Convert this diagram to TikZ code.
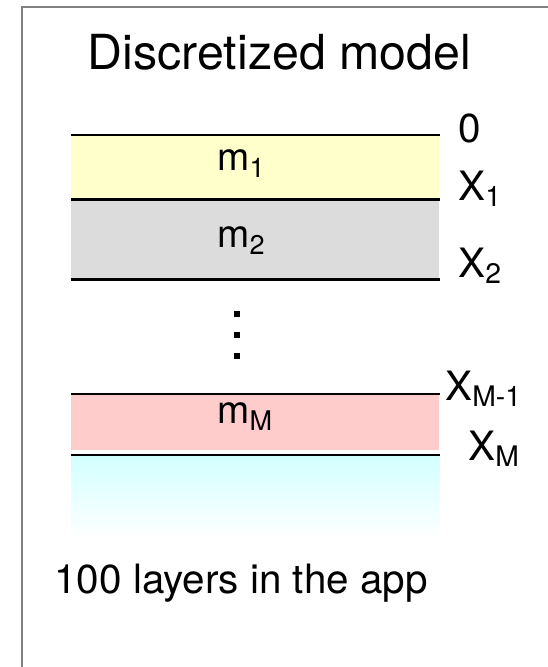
\documentclass[tikz,border=0pt]{standalone}
\usepackage{fontspec}
\setmainfont{TeX Gyre Heros}
\definecolor{layeryellow}{HTML}{FFFFCC}
\definecolor{layergray}{HTML}{DCDCDC}
\definecolor{layerpink}{HTML}{FFCCCC}
\definecolor{halfcyan}{HTML}{D2FFFF}

\begin{document}
\begin{tikzpicture}[
    frame/.style={draw=gray, line width=1.1pt},
    layer/.style={anchor=north west, inner sep=0pt, minimum width=7.36cm},
    param/.style={anchor=mid west, inner sep=0pt, font={\fontsize{22}{26}\selectfont}},
    bound/.style={line width=1.7pt},
    depth/.style={anchor=base west, inner sep=0pt, font={\fontsize{23}{27}\selectfont}},
    caption/.style={anchor=base, inner sep=0pt}
]
    \useasboundingbox (0,0) rectangle (10.94,-13.34);
    \draw[frame] (0.44,-13.6) |- (11.2,-0.14);

    \node[caption, font={\fontsize{27.5}{32}\selectfont}] (title) at (5.59,-1.40) {Discretized model};

    \node[layer, fill=layeryellow, minimum height=1.28cm] (m1)   at (1.42,-2.70) {};
    \node[layer, fill=layergray,   minimum height=1.60cm] (m2)   at (1.42,-3.98) {};
    \node[layer, fill=layerpink,   minimum height=1.12cm] (mM)   at (1.42,-7.88) {};
    \node[layer, top color=halfcyan, bottom color=white, minimum height=1.66cm] (half) at (1.42,-9.10) {};

    \node[param] (p1) at (4.34,-3.32) {m\textsubscript{1}};
    \node[param] (p2) at (4.34,-4.86) {m\textsubscript{2}};
    \node[param] (pM) at (4.34,-8.38) {m\textsubscript{M}};

    \draw[bound] (m1.north west)   -- (m1.north east);
    \draw[bound] (m1.south west)   -- (m1.south east);
    \draw[bound] (m2.south west)   -- (m2.south east);
    \draw[bound] (mM.north west)   -- (mM.north east);
    \draw[bound] (half.north west) -- (half.north east);

    % vertical dots
    \foreach \yy in {6.22,6.64,7.06}
        \fill (4.68,-\yy) rectangle ++(0.12,-0.12);

    \node[depth] (d0)  at (9.16,-2.84) {0};
    \node[depth] (d1)  at (9.16,-4.00) {X\textsubscript{1}};
    \node[depth] (d2)  at (9.16,-5.54) {X\textsubscript{2}};
    \node[depth] (dM1) at (8.90,-8.00) {X\textsubscript{M-1}};
    \node[depth] (dM)  at (9.36,-9.20) {X\textsubscript{M}};

    \node[caption, font={\fontsize{23}{27}\selectfont}] (note) at (4.82,-11.86) {100 layers in the app};
\end{tikzpicture}
\end{document}
